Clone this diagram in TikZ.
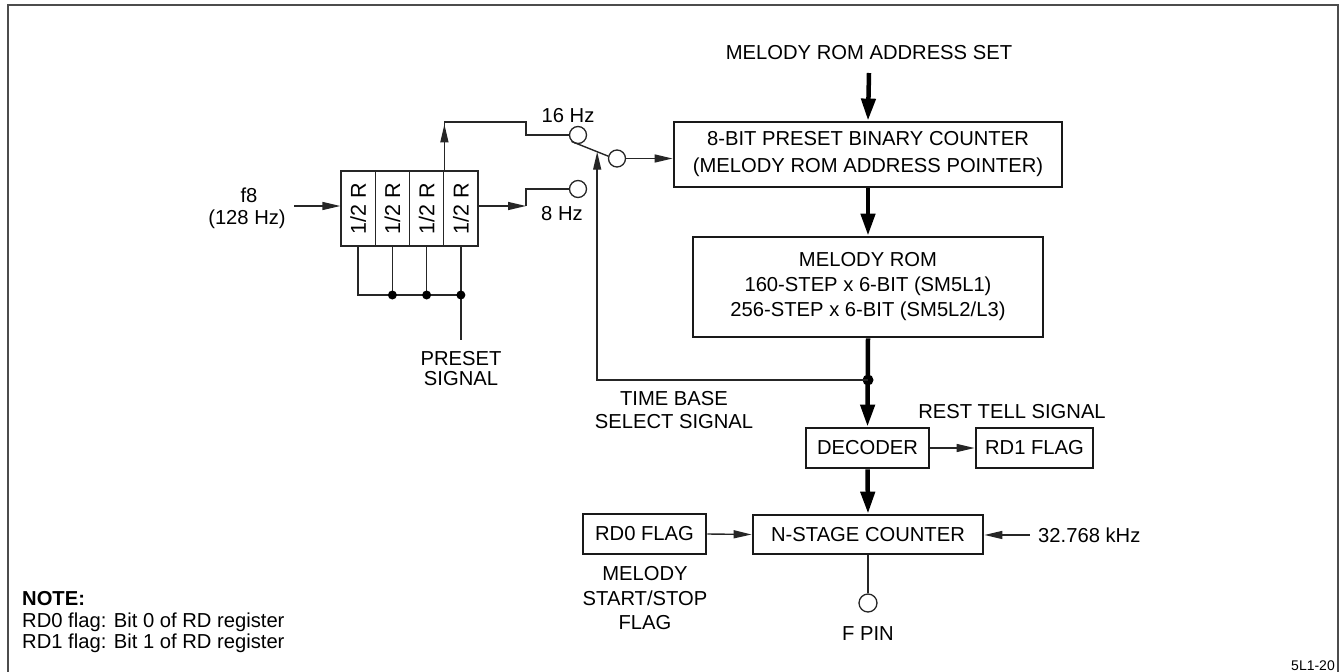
\documentclass[tikz,border=0pt]{standalone}
\usepackage{fontspec}
\setmainfont{Liberation Sans}
\usetikzlibrary{arrows.meta,calc}
\begin{document}
\begin{tikzpicture}[x=1pt,y=-1pt,
  every node/.style={font=\fontsize{20.2}{25}\selectfont, text=black, inner sep=0pt},
  ln/.style={line width=1.4pt, draw=black!85},
  arr/.style={ln, -{Triangle[length=18pt,width=8pt]}},
  thk/.style={line width=4.5pt, draw=black},
  tarr/.style={thk, -{Triangle[length=22pt,width=14pt]}},
  blk/.style={draw=black!90, line width=2.8pt, align=center},
  cellbox/.style={draw=black!85, line width=1.3pt, minimum width=34.25pt, minimum height=75pt},
  dot/.style={circle, fill=black, minimum size=9pt, inner sep=0pt},
  pin/.style={circle, draw=black!85, line width=1.3pt, minimum size=17pt, inner sep=0pt, fill=white},
  lbl/.style={anchor=base},
]
\useasboundingbox (0,0) rectangle (1342,672);
% frame
\draw[line width=1.3pt, draw=black!70] (8,672) -- (8,5) -- (1338,5) -- (1338,672);

% main chain
\node[lbl] (title) at (869,59.2) {MELODY ROM ADDRESS SET};
\coordinate (tin) at (869,73);
\node[blk, minimum width=388pt, minimum height=65pt] (bc) at (868,154.5) {8-BIT PRESET BINARY COUNTER\\[2pt](MELODY ROM ADDRESS POINTER)};
\node[blk, minimum width=350pt, minimum height=100pt] (rom) at (868,287) {MELODY ROM\\160-STEP x 6-BIT (SM5L1)\\256-STEP x 6-BIT (SM5L2/L3)};
\node[blk, minimum width=123pt, minimum height=40pt] (dec) at (867.5,448) {DECODER};
\node[blk, minimum width=117pt, minimum height=40pt] (rd1) at (1034.5,448) {RD1 FLAG};
\node[lbl] (rest) at (1012,418.2) {REST TELL SIGNAL};
\node[blk, minimum width=230pt, minimum height=39pt] (ns) at (868,534.5) {N-STAGE COUNTER};
\node[blk, minimum width=123pt, minimum height=40pt] (rd0) at (644.5,534) {RD0 FLAG};
\node[anchor=base west] (khz) at (1038,542.2) {32.768 kHz};
\node[align=center, font=\fontsize{20.2}{24.5}\selectfont] (mss) at (645,598.5) {MELODY\\START/STOP\\FLAG};
\node[pin, minimum size=18pt] (fpin) at (868,603) {};
\node[lbl] (fpt) at (868,640.2) {F PIN};
\node[align=center, font=\fontsize{20.2}{23}\selectfont] (tbs) at (674,410.5) {TIME BASE\\SELECT SIGNAL};

\draw[tarr] (tin) -- (bc.north);
\draw[tarr] (bc.south) -- (rom.north);
\draw[tarr] (rom.south) -- (dec.north);
\node[dot, minimum size=11pt] (jd) at (868,380) {};
\draw[tarr] (dec.south) -- (ns.north);
\draw[arr] (dec.east) -- (rd1.west);
\draw[arr] (rd0.east) -- (ns.west);
\draw[arr] ([xshift=-8pt]khz.west) -- (khz.west -| ns.east);
\draw[ln] (ns.south) -- (fpin.north);

% divider chain
\node[cellbox] (c1) at (358.125,208.5) {};
\node[cellbox] (c2) at (392.375,208.5) {};
\node[cellbox] (c3) at (426.625,208.5) {};
\node[cellbox] (c4) at (460.875,208.5) {};
\foreach \c in {c1,c2,c3,c4} \node[rotate=90, font=\fontsize{21.5}{25}\selectfont] at (\c) {1/2 R};

\node[lbl] (f8) at (249,202.2) {f8};
\node[lbl] (f128) at (247,224.2) {(128 Hz)};
\coordinate (fin) at (294,206);
\draw[arr] (fin) -- (fin -| c1.west);

% switch
\node[pin] (h16) at (578,135) {};
\node[pin] (h8) at (578,189) {};
\node[pin] (out) at (617,158.5) {};
\node[lbl] (l16) at (568,122.2) {16 Hz};
\node[lbl] (l8) at (562,220.2) {8 Hz};
\draw[ln] (h16.225) -- (out.165);
\coordinate (lev) at ($(h16.225)!0.7!(out.165)$);
\draw[arr] (out.east) -- (out.east -| bc.west);
\draw[arr] (jd.center) -| (lev);

% 16 Hz path
\coordinate (k16) at (526,122);
\draw[ln] (c3.north east) |- (k16) |- (h16.west);
\draw[arr] (c3.north east) -- ++(0,-46);
% 8 Hz path
\coordinate (k8) at (526,206);
\draw[arr] (c4.east |- k8) -- (k8);
\draw[ln] (k8) |- (h8.west);

% preset bus
\coordinate (busy) at (0,295);
\coordinate (pend) at (460.875,340);
\draw[ln] (c1.south) -- (c1.south |- busy) -- (c4.south |- busy);
\draw[ln] (c2.south) -- (c2.south |- busy);
\draw[ln] (c3.south) -- (c3.south |- busy);
\draw[ln] (c4.south) -- (pend);
\node[dot] (d2) at (c2.south |- busy) {};
\node[dot] (d3) at (c3.south |- busy) {};
\node[dot] (d4) at (c4.south |- busy) {};
\node[align=center, font=\fontsize{20.2}{20}\selectfont] (pre) at (461,369) {PRESET\\SIGNAL};

% note
\node[anchor=base west] (note) at (22,605) {\bfseries NOTE:};
\node[anchor=base west] (n1) at (22,627) {RD0 flag: Bit 0 of RD register};
\node[anchor=base west] (n2) at (22,648) {RD1 flag: Bit 1 of RD register};
\node[anchor=base east, font=\fontsize{14}{16}\selectfont] (code) at (1335,670) {5L1-20};
\end{tikzpicture}
\end{document}
